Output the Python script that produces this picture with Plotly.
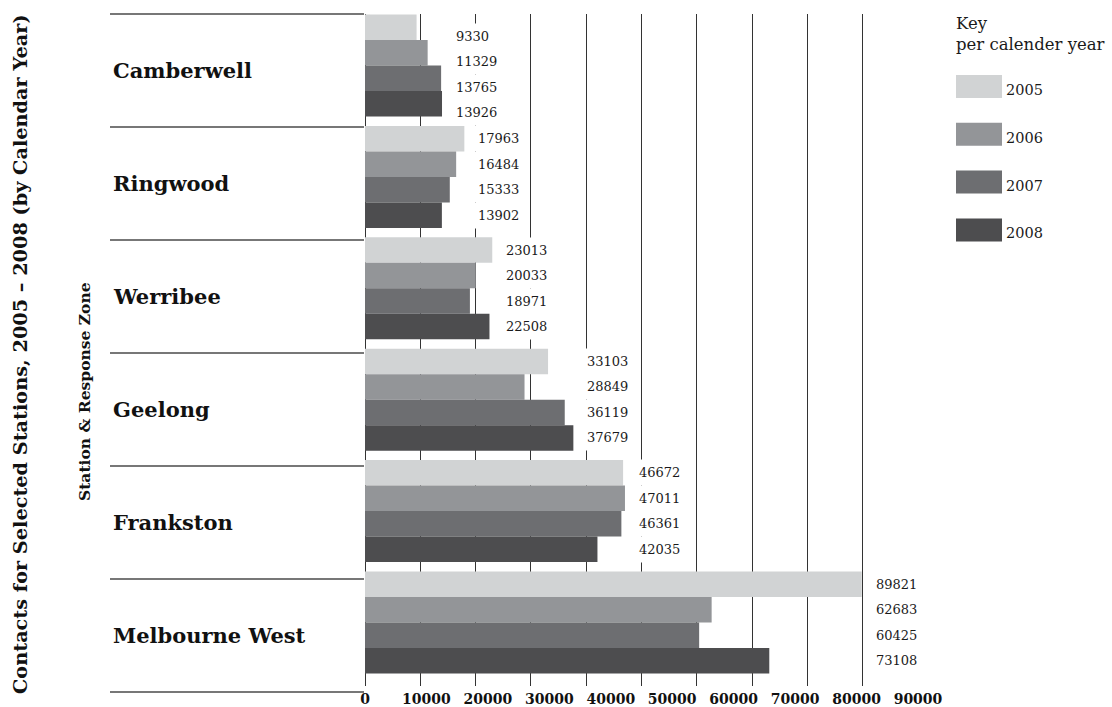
import plotly.graph_objects as go

# ---------------- data ----------------
stations = ["Camberwell", "Ringwood", "Werribee", "Geelong", "Frankston", "Melbourne West"]
years = ["2005", "2006", "2007", "2008"]
contacts_2005 = [9330, 17963, 23013, 33103, 46672, 89821]
contacts_2006 = [11329, 16484, 20033, 28849, 47011, 62683]
contacts_2007 = [13765, 15333, 18971, 36119, 46361, 60425]
contacts_2008 = [13926, 13902, 22508, 37679, 42035, 73108]
series = [contacts_2005, contacts_2006, contacts_2007, contacts_2008]
tick_values = [0, 10000, 20000, 30000, 40000, 50000, 60000, 70000, 80000, 90000]

title_text = "Contacts for Selected Stations, 2005 \u2013 2008 (by Calendar Year)"
axis_title_text = "Station &amp; Response Zone"
key_text = "Key<br>per calender year"

# ---------------- style ----------------
colors = ["#d1d3d4", "#939598", "#6d6e71", "#4d4d4f"]
SERIF = "DejaVu Serif"
TXT = "#1a1a1a"

W, H = 1112, 707
L, R, T, B = 365, 918, 14, 686          # plot area in pixels
PW, PH = R - L, B - T
BARGAP = 0.084
Y_RANGE = [5.570, -0.4623]              # reversed numeric category axis


def px_x(px):
    return (px - L) / PW


def px_y(py):
    return (B - py) / PH


positions = list(range(len(stations)))

fig = go.Figure()
for name, vals, col in zip(years, series, colors):
    fig.add_trace(go.Bar(
        x=vals, y=positions, orientation="h", name=name,
        marker=dict(color=col, line=dict(width=0)),
        showlegend=False, hoverinfo="x+name",
    ))
# empty trace so that the labelled overlay axis is drawn
fig.add_trace(go.Scatter(x=[], y=[], xaxis="x2", yaxis="y", showlegend=False,
                         hoverinfo="skip"))

annotations = []
shapes = []

# value labels (white boxes hide the grid lines behind them)
slot = (1 - BARGAP) / len(years)
for i, st in enumerate(stations):
    gmax = max(s[i] for s in series)
    for j, vals in enumerate(series):
        annotations.append(dict(
            x=gmax, y=i + (j - (len(years) - 1) / 2) * slot,
            xref="x", yref="y", text=str(vals[i]), showarrow=False,
            xanchor="left", yanchor="middle", xshift=8,
            yshift=-9 if i == 0 else 0,
            bgcolor="white", borderpad=5,
            font=dict(family=SERIF, size=13, color=TXT),
        ))

# station band separators and station names
n = len(stations)
for k in range(n + 1):
    yp = px_y(T + 113 * k)
    shapes.append(dict(type="line", xref="paper", yref="paper",
                       x0=px_x(110), x1=px_x(364), y0=yp, y1=yp,
                       line=dict(color="#4a4a4a", width=1.5)))
for k, st in enumerate(stations):
    annotations.append(dict(
        x=px_x(111), y=px_y(T + 113 * (k + 0.5)), xref="paper", yref="paper",
        text=st, showarrow=False, xanchor="left", yanchor="middle",
        font=dict(family=SERIF, size=21, color="#111", weight="bold"),
    ))

# rotated titles
annotations.append(dict(
    x=px_x(20), y=px_y(354), xref="paper", yref="paper", text=title_text,
    textangle=-90, showarrow=False, xanchor="center", yanchor="middle",
    font=dict(family=SERIF, size=19.3, color="#111", weight="bold"),
))
annotations.append(dict(
    x=px_x(84), y=px_y(392), xref="paper", yref="paper", text=axis_title_text,
    textangle=-90, showarrow=False, xanchor="center", yanchor="middle",
    font=dict(family=SERIF, size=15.5, color="#111", weight="bold"),
))

# key (legend)
annotations.append(dict(
    x=px_x(954), y=px_y(12), xref="paper", yref="paper", text=key_text,
    showarrow=False, xanchor="left", yanchor="top", align="left",
    font=dict(family=SERIF, size=16.5, color=TXT),
))
for j, (yr, col) in enumerate(zip(years, colors)):
    top = 75 + 47.8 * j
    shapes.append(dict(type="rect", xref="paper", yref="paper",
                       x0=px_x(956), x1=px_x(1002), y0=px_y(top), y1=px_y(top + 23),
                       fillcolor=col, line=dict(width=0)))
    annotations.append(dict(
        x=px_x(1004), y=px_y(top + 15), xref="paper", yref="paper", text=yr,
        showarrow=False, xanchor="left", yanchor="middle",
        font=dict(family=SERIF, size=14.5, color=TXT),
    ))

fig.update_layout(
    width=W, height=H,
    margin=dict(l=L, r=W - R, t=T, b=H - B, pad=0, autoexpand=False),
    paper_bgcolor="white", plot_bgcolor="white",
    barmode="group", bargap=BARGAP, bargroupgap=0,
    xaxis=dict(range=[0, 100000], dtick=10000, tick0=0, showgrid=True,
               gridcolor="#333333", gridwidth=1, zeroline=True,
               zerolinecolor="#333333", zerolinewidth=1, automargin=False,
               showticklabels=False, ticks="", showline=False, fixedrange=True),
    xaxis2=dict(overlaying="x", anchor="y", side="bottom", range=[0, 90000],
                tickvals=tick_values, ticktext=[str(v) for v in tick_values],
                showgrid=False, zeroline=False, showline=False, ticks="",
                automargin=False, ticklabelstandoff=3,
                tickfont=dict(family=SERIF, size=14, color="#111", weight="bold"),
                fixedrange=True),
    yaxis=dict(range=Y_RANGE, showticklabels=False, showgrid=False, automargin=False,
               zeroline=False, showline=False, ticks="", fixedrange=True),
    annotations=annotations, shapes=shapes,
)

fig.write_html("out.html")
